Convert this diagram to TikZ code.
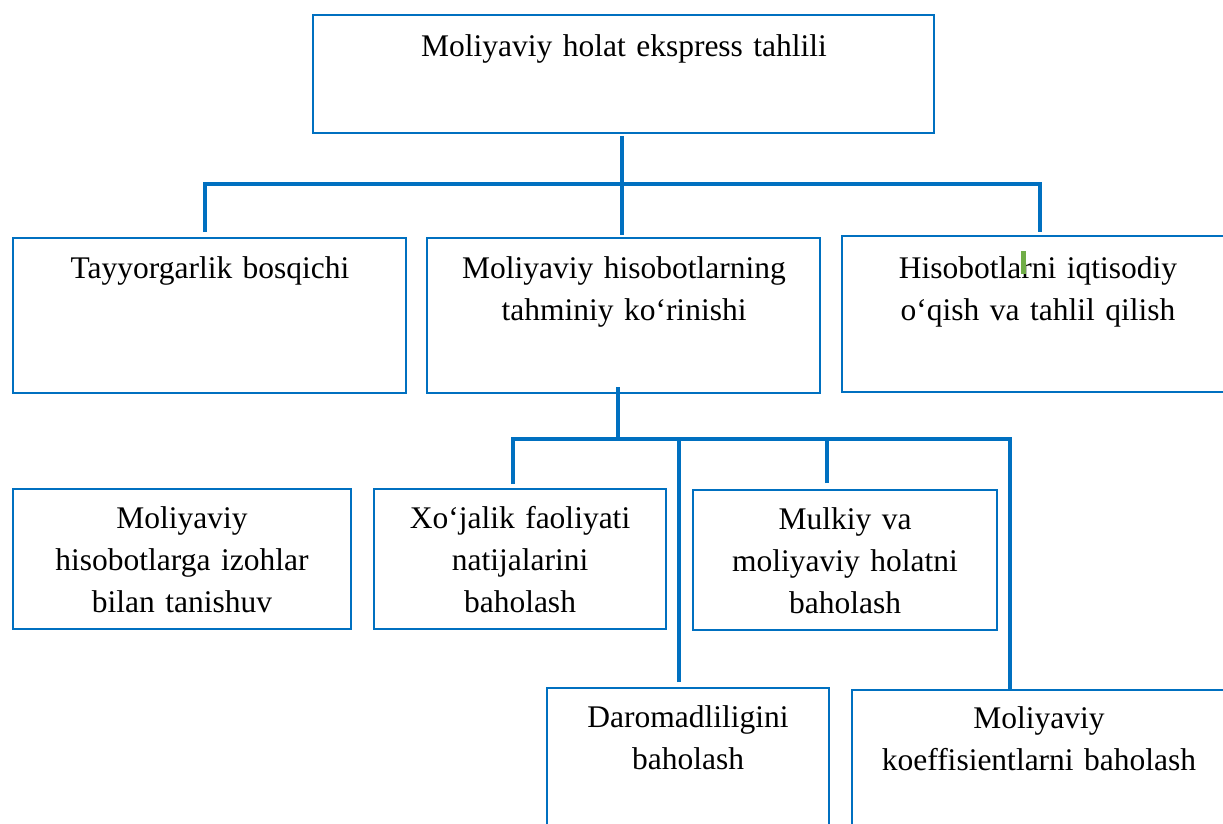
\documentclass[tikz,border=0pt]{standalone}
\usepackage{fontspec}
\setmainfont{Liberation Serif}
\definecolor{bl}{HTML}{0070C0}
\definecolor{gr}{HTML}{70AD47}
\begin{document}
\begin{tikzpicture}[x=1pt,y=-1pt,
  box/.style={draw=bl, line width=1.6pt, inner sep=0pt, outer sep=0pt},
  conn/.style={draw=bl, line width=4.5pt},
  txt/.style={font=\fontsize{31.5}{42}\selectfont, align=center, anchor=base, inner sep=0pt, text width=#1},
  txt/.default=385pt]
\clip (0,0) rectangle (1223,823);
% boxes
\node[box, minimum width=621pt, minimum height=118pt] (top) at (623.5,74) {};
\node[box, minimum width=393pt, minimum height=155pt] (A) at (209.5,315.5) {};
\node[box, minimum width=393pt, minimum height=155pt] (B) at (623.5,315.5) {};
\node[box, minimum width=392pt, minimum height=156pt] (C) at (1038,314) {};
\node[box, minimum width=338pt, minimum height=140pt] (D) at (182,559) {};
\node[box, minimum width=292pt, minimum height=140pt] (E) at (520,559) {};
\node[box, minimum width=304pt, minimum height=140pt] (F) at (845,560) {};
\node[box, minimum width=282pt, minimum height=152pt] (G) at (688,764) {};
\node[box, minimum width=374pt, minimum height=150pt] (H) at (1039,765) {};
% texts
\node[txt=600pt] (ttop) at (624,56) {Moliyaviy holat ekspress tahlili};
\node[txt] (tA) at (210,278) {Tayyorgarlik bosqichi};
\node[txt] (tB) at (624,278) {Moliyaviy hisobotlarning\\tahminiy ko‘rinishi};
\node[txt] (tC) at (1038,278) {Hisobotlarni iqtisodiy\\o‘qish va tahlil qilish};
\node[txt=335pt] (tD) at (182,528) {Moliyaviy\\hisobotlarga izohlar\\bilan tanishuv};
\node[txt=290pt] (tE) at (520,528) {Xo‘jalik faoliyati\\natijalarini\\baholash};
\node[txt=300pt] (tF) at (845,529) {Mulkiy va\\moliyaviy holatni\\baholash};
\node[txt=280pt] (tG) at (688,727) {Daromadliligini\\baholash};
\node[txt=372pt] (tH) at (1039,728) {Moliyaviy\\koeffisientlarni baholash};
% cursor mark
\fill[gr] (1021,251) rectangle (1026,274);
% connectors
\coordinate (j1) at (622,184);
\coordinate (j2) at (618,439);
\path ([xshift=-9pt,yshift=6pt]G.north) coordinate (g1)
      ([xshift=-18pt,yshift=7pt]F.north) coordinate (f1);
\draw[conn] ([xshift=-1.5pt,yshift=-3pt]top.south) -- ([xshift=-1.5pt,yshift=3pt]B.north);
\draw[conn] ([xshift=-4.5pt,yshift=6pt]A.north) |- (j1) -| ([xshift=2pt,yshift=4pt]C.north);
\draw[conn] ([xshift=-5.5pt,yshift=6pt]B.south) -- (j2);
\draw[conn] ([xshift=-7pt,yshift=5pt]E.north) |- (j2) -| ([xshift=-29pt]H.north);
\draw[conn] (g1) -- (g1 |- j2);
\draw[conn] (f1) -- (f1 |- j2);
\end{tikzpicture}
\end{document}
